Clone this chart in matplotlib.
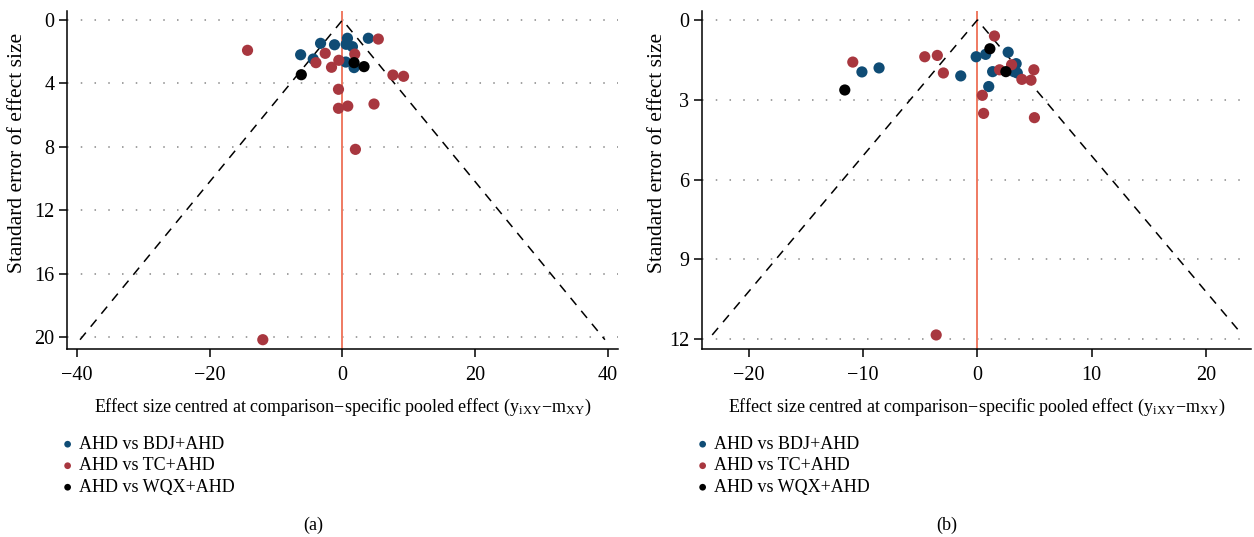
import numpy as np
import matplotlib
matplotlib.use("Agg")
import matplotlib.pyplot as plt

plt.rcParams['font.family'] = ['Liberation Serif', 'DejaVu Serif']
plt.rcParams['mathtext.fontset'] = 'stix'

# panel (a): effect size centred (x) and standard error (y), by comparison
a_bdj_x = [-3.3, -1.2, 0.75, 0.55, 1.5, 3.9, -6.3, -4.4, 0.5, 1.75]
a_bdj_y = [1.47, 1.56, 1.15, 1.53, 1.68, 1.15, 2.19, 2.46, 2.65, 3.0]
a_tc_x = [-14.3, 5.4, -2.6, 1.85, -4.0, -0.55, -1.65, 7.6, 9.2, -0.6, -0.6, 0.8, 4.75, 1.95, -12.0]
a_tc_y = [1.91, 1.2, 2.1, 2.15, 2.69, 2.54, 2.98, 3.47, 3.55, 4.37, 5.57, 5.43, 5.3, 8.16, 20.17]
a_wqx_x = [1.75, 3.25, -6.2]
a_wqx_y = [2.69, 2.94, 3.45]

# panel (b)
b_bdj_x = [-10.1, -8.6, -1.45, -0.1, 0.73, 2.7, 1.34, 3.4, 3.2, 3.5, 1.0]
b_bdj_y = [1.95, 1.80, 2.1, 1.38, 1.29, 1.21, 1.94, 1.64, 1.94, 1.99, 2.5]
b_tc_x = [-10.9, -4.6, -3.5, -2.97, 1.5, 1.95, 3.0, 4.95, 3.9, 4.7, 0.44, 0.55, 5.0, -3.6]
b_tc_y = [1.58, 1.38, 1.33, 1.99, 0.6, 1.87, 1.68, 1.87, 2.23, 2.26, 2.83, 3.51, 3.67, 11.84]
b_wqx_x = [1.1, 2.5, -11.6]
b_wqx_y = [1.08, 1.94, 2.63]

labels = ['AHD vs BDJ+AHD', 'AHD vs TC+AHD', 'AHD vs WQX+AHD']
colors = ['#0f4c75', '#a8373f', '#000000']

fig = plt.figure(figsize=(12.54, 5.37), dpi=100)
ax1 = fig.add_axes([0.0534, 0.350, 0.4394, 0.6295])
ax2 = fig.add_axes([0.5598, 0.350, 0.4382, 0.6295])

panels = [
    (ax1, [(a_bdj_x, a_bdj_y), (a_tc_x, a_tc_y), (a_wqx_x, a_wqx_y)],
     (-41.5, 41.5), (20.76, -0.57), [-40, -20, 0, 20, 40], [0, 4, 8, 12, 16, 20],
     '(a)', 313, -0.073),
    (ax2, [(b_bdj_x, b_bdj_y), (b_tc_x, b_tc_y), (b_wqx_x, b_wqx_y)],
     (-24.1, 24.0), (12.37, -0.34), [-20, -10, 0, 10, 20], [0, 3, 6, 9, 12],
     '(b)', 947, -0.064),
]

for ax, series, xlim, ylim, xt, yt, tag, tag_x, ylab_x in panels:
    # funnel: pseudo 95% limits
    se_max = max(max(y) for _, y in series)
    ax.plot([-1.96 * se_max, 0, 1.96 * se_max], [se_max, 0, se_max],
            color='black', linestyle=(0, (6, 5)), linewidth=1.1, zorder=2)
    ax.axvline(0, color='#ef7a62', linewidth=1.4, zorder=1)
    for yv in yt:
        ax.axhline(yv, color='#888888', linestyle=(0, (1, 8)), linewidth=1.1, zorder=0)
    for (x, y), c, lab in zip(series, colors, labels):
        ax.scatter(x, y, s=65, color=c, edgecolors='none', zorder=3, label=lab)
    ax.set_xlim(*xlim)
    ax.set_ylim(*ylim)
    ax.set_xticks(xt)
    ax.set_yticks(yt)
    ax.set_xticklabels([str(v).replace('-', '\u2212') for v in xt])
    ax.tick_params(direction='out', length=6, width=1.1, labelsize=14.5)
    ax.tick_params(axis='x', pad=6)
    ax.tick_params(axis='y', pad=3)
    for s in ['top', 'right']:
        ax.spines[s].set_visible(False)
    for s in ['left', 'bottom']:
        ax.spines[s].set_linewidth(1.1)
    ax.set_ylabel('Standard error of effect size', fontsize=15.5)
    ax.yaxis.set_label_coords(ylab_x, 0.58)
    ax.set_xlabel('Effect size centred at comparison\u2212specific pooled effect '
                  '(y$_{\\mathregular{iXY}}$\u2212m$_{\\mathregular{XY}}$)',
                  fontsize=13, labelpad=9)
    pos = ax.get_position()
    ax.legend(loc='upper left', bbox_to_anchor=(pos.x0 - 0.011, 0.205),
              bbox_transform=fig.transFigure, frameon=False, fontsize=13,
              markerscale=0.6, handlelength=0.6, handletextpad=0.35,
              labelspacing=0.25, borderpad=0)
    fig.text(tag_x / 1254, 0.006, tag, ha='center', va='bottom', fontsize=13)

fig.savefig('out.png', dpi=100)
